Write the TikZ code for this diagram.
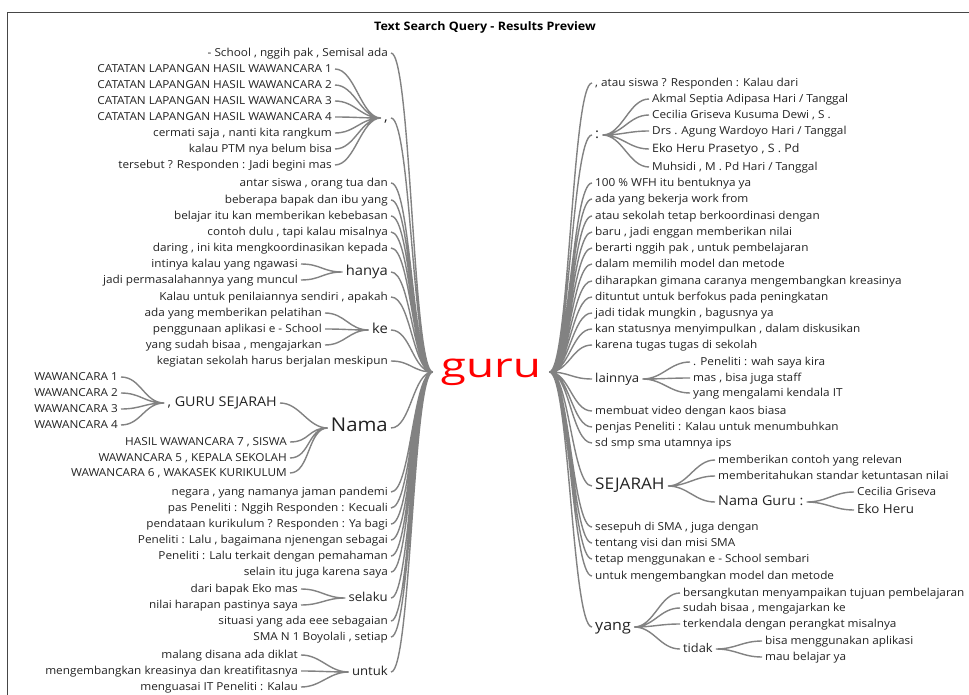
\documentclass[tikz,border=0pt]{standalone}
\usepackage{fontspec}
\usepackage{graphicx}
\setmainfont{Open Sans}[FakeStretch=1.07]
\definecolor{wirec}{RGB}{130,130,130}
\definecolor{txt}{RGB}{35,35,35}
\definecolor{framec}{RGB}{70,70,70}
\newcommand\wordfont{\fontsize{11}{12}\selectfont}
\tikzset{
  wire/.style={draw=wirec, line width=1.4pt},
  lbranch/.style={to path={.. controls +(-#1,0) and +(#1,0) .. (\tikztotarget)}},
  lbranch/.default=20,
  rbranch/.style={to path={.. controls +(#1,0) and +(-#1,0) .. (\tikztotarget)}},
  rbranch/.default=20,
  lword/.style={anchor=east, inner xsep=3pt, inner ysep=0pt, text height=1.5ex,
    text depth=.25ex, font=\wordfont, text=txt},
  rword/.style={lword, anchor=west},
}
\begin{document}
\begin{tikzpicture}[x=1pt, y=-1pt]
      \fill[white] (0,0) rectangle (969,695);
      \useasboundingbox (0,0) rectangle (969,695);
      \draw[framec, line width=1pt] (7,695) -- (7,13) -- (969,13);
      \node[font=\bfseries\fontsize{11.7}{12}\selectfont, text=black] (title) at (485,27) {Text Search Query - Results Preview};
      \node[text=red, font=\fontsize{34}{34}\selectfont, inner xsep=8pt, inner ysep=0pt] (guru) at (491,372) {\scalebox{1.26}[1]{guru}};

      \node[lword] (l1) at (391, 53){- School , nggih pak , Semisal ada};
      \node[lword, font=\fontsize{14}{14}\selectfont] (lc) at (391, 118){,};
        \node[lword] (c1) at (335, 69){CATATAN LAPANGAN HASIL WAWANCARA 1};
        \node[lword] (c2) at (335, 85){CATATAN LAPANGAN HASIL WAWANCARA 2};
        \node[lword] (c3) at (335, 101){CATATAN LAPANGAN HASIL WAWANCARA 3};
        \node[lword] (c4) at (335, 117){CATATAN LAPANGAN HASIL WAWANCARA 4};
        \node[lword] (c5) at (335, 133){cermati saja , nanti kita rangkum};
        \node[lword] (c6) at (335, 149){kalau PTM nya belum bisa};
        \node[lword] (c7) at (335, 165){tersebut ? Responden : Jadi begini mas};
      \node[lword] (l2) at (391, 183){antar siswa , orang tua dan};
      \node[lword] (l3) at (391, 200){beberapa bapak dan ibu yang};
      \node[lword] (l4) at (391, 216){belajar itu kan memberikan kebebasan};
      \node[lword] (l5) at (391, 232){contoh dulu , tapi kalau misalnya};
      \node[lword] (l6) at (391, 248){daring , ini kita mengkoordinasikan kepada};
      \node[lword, font=\fontsize{13.8}{14}\selectfont] (lh) at (391, 272){hanya};
        \node[lword] (h1) at (301, 264){intinya kalau yang ngawasi};
        \node[lword] (h2) at (301, 280){jadi permasalahannya yang muncul};
      \node[lword] (l7) at (391, 297){Kalau untuk penilaiannya sendiri , apakah};
      \node[lword, font=\fontsize{13.8}{14}\selectfont] (lk) at (391, 330){ke};
        \node[lword] (k1) at (325, 313){ada yang memberikan pelatihan};
        \node[lword] (k2) at (325, 329){penggunaan aplikasi e - School};
        \node[lword] (k3) at (325, 345){yang sudah bisaa , mengajarkan};
      \node[lword] (l8) at (391, 361){kegiatan sekolah harus berjalan meskipun};
      \node[lword, font=\fontsize{19}{19}\selectfont] (ln) at (391, 428){Nama};
        \node[lword, font=\fontsize{13.4}{14}\selectfont] (ng) at (280, 403){, GURU SEJARAH};
          \node[lword] (w1) at (121, 377){WAWANCARA 1};
          \node[lword] (w2) at (121, 393){WAWANCARA 2};
          \node[lword] (w3) at (121, 409){WAWANCARA 3};
          \node[lword] (w4) at (121, 425){WAWANCARA 4};
        \node[lword] (n1) at (290, 442){HASIL WAWANCARA 7 , SISWA};
        \node[lword] (n2) at (290, 458){WAWANCARA 5 , KEPALA SEKOLAH};
        \node[lword] (n3) at (290, 473){WAWANCARA 6 , WAKASEK KURIKULUM};
      \node[lword] (l9) at (391, 492){negara , yang namanya jaman pandemi};
      \node[lword] (l10) at (391, 508){pas Peneliti : Nggih Responden : Kecuali};
      \node[lword] (l11) at (391, 524){pendataan kurikulum ? Responden : Ya bagi};
      \node[lword] (l12) at (391, 540){Peneliti : Lalu , bagaimana njenengan sebagai};
      \node[lword] (l13) at (391, 556){Peneliti : Lalu terkait dengan pemahaman};
      \node[lword] (l14) at (391, 572){selain itu juga karena saya};
      \node[lword, font=\fontsize{12.3}{13}\selectfont] (ls) at (391, 598){selaku};
        \node[lword] (s1) at (301, 589){dari bapak Eko mas};
        \node[lword] (s2) at (301, 605){nilai harapan pastinya saya};
      \node[lword] (l15) at (391, 621){situasi yang ada eee sebagaian};
      \node[lword] (l16) at (391, 637){SMA N 1 Boyolali , setiap};
      \node[lword, font=\fontsize{12.3}{13}\selectfont] (lu) at (391, 672){untuk};
        \node[lword] (u1) at (301, 655){malang disana ada diklat};
        \node[lword] (u2) at (301, 671){mengembangkan kreasinya dan kreatifitasnya};
        \node[lword] (u3) at (301, 687){menguasai IT Peneliti : Kalau};

      \node[rword] (r1) at (592, 83){, atau siswa ? Responden : Kalau dari};
      \node[rword, font=\fontsize{14}{14}\selectfont] (rc) at (592, 135){:};
        \node[rword] (a1) at (649, 99){Akmal Septia Adipasa Hari / Tanggal};
        \node[rword] (a2) at (649, 115){Cecilia Griseva Kusuma Dewi , S .};
        \node[rword] (a3) at (649, 131){Drs . Agung Wardoyo Hari / Tanggal};
        \node[rword, font=\fontsize{11.6}{12}\selectfont] (a4) at (649, 149){Eko Heru Prasetyo , S . Pd};
        \node[rword] (a5) at (649, 167){Muhsidi , M . Pd Hari / Tanggal};
      \node[rword] (r2) at (592, 183){100 \% WFH itu bentuknya ya};
      \node[rword] (r3) at (592, 199){ada yang bekerja work from};
      \node[rword] (r4) at (592, 216){atau sekolah tetap berkoordinasi dengan};
      \node[rword] (r5) at (592, 232){baru , jadi enggan memberikan nilai};
      \node[rword] (r6) at (592, 248){berarti nggih pak , untuk pembelajaran};
      \node[rword] (r7) at (592, 264){dalam memilih model dan metode};
      \node[rword] (r8) at (592, 281){diharapkan gimana caranya mengembangkan kreasinya};
      \node[rword] (r9) at (592, 297){dituntut untuk berfokus pada peningkatan};
      \node[rword] (r10) at (592, 313){jadi tidak mungkin , bagusnya ya};
      \node[rword] (r11) at (592, 329){kan statusnya menyimpulkan , dalam diskusikan};
      \node[rword] (r12) at (592, 345){karena tugas tugas di sekolah};
      \node[rword, font=\fontsize{12.3}{13}\selectfont] (rl) at (592, 379){lainnya};
        \node[rword] (e1) at (690, 362){. Peneliti : wah saya kira};
        \node[rword] (e2) at (690, 378){mas , bisa juga staff};
        \node[rword] (e3) at (690, 393){yang mengalami kendala IT};
      \node[rword] (r13) at (592, 411){membuat video dengan kaos biasa};
      \node[rword] (r14) at (592, 427){penjas Peneliti : Kalau untuk menumbuhkan};
      \node[rword] (r15) at (592, 443){sd smp sma utamnya ips};
      \node[rword, font=\fontsize{16}{16}\selectfont] (rs) at (592, 486){SEJARAH};
        \node[rword] (j1) at (715, 460){memberikan contoh yang relevan};
        \node[rword] (j2) at (715, 476){memberitahukan standar ketuntasan nilai};
        \node[rword, font=\fontsize{13.4}{14}\selectfont] (jn) at (715, 502){Nama Guru :};
          \node[rword] (g1) at (854, 492){Cecilia Griseva};
          \node[rword, font=\fontsize{12.5}{13}\selectfont] (g2) at (854, 510){Eko Heru};
      \node[rword] (r16) at (592, 527){sesepuh di SMA , juga dengan};
      \node[rword] (r17) at (592, 543){tentang visi dan misi SMA};
      \node[rword] (r18) at (592, 559){tetap menggunakan e - School sembari};
      \node[rword] (r19) at (592, 576){untuk mengembangkan model dan metode};
      \node[rword, font=\fontsize{15}{15}\selectfont] (ry) at (592, 627){yang};
        \node[rword] (y1) at (680, 593){bersangkutan menyampaikan tujuan pembelajaran};
        \node[rword] (y2) at (680, 608){sudah bisaa , mengajarkan ke};
        \node[rword] (y3) at (680, 624){terkendala dengan perangkat misalnya};
        \node[rword, font=\fontsize{12}{12}\selectfont] (yt) at (680, 649){tidak};
          \node[rword] (t1) at (762, 641){bisa menggunakan aplikasi};
          \node[rword] (t2) at (762, 657){mau belajar ya};

      \draw[wire] (guru.west) to[lbranch] (l1.east) (guru.west) to[lbranch] (lc.east)
        (guru.west) to[lbranch] (l2.east) (guru.west) to[lbranch] (l3.east)
        (guru.west) to[lbranch] (l4.east) (guru.west) to[lbranch] (l5.east)
        (guru.west) to[lbranch] (l6.east) (guru.west) to[lbranch] (lh.east)
        (guru.west) to[lbranch] (l7.east) (guru.west) to[lbranch] (lk.east)
        (guru.west) to[lbranch] (l8.east) (guru.west) to[lbranch] (ln.east)
        (guru.west) to[lbranch] (l9.east) (guru.west) to[lbranch] (l10.east)
        (guru.west) to[lbranch] (l11.east) (guru.west) to[lbranch] (l12.east)
        (guru.west) to[lbranch] (l13.east) (guru.west) to[lbranch] (l14.east)
        (guru.west) to[lbranch] (ls.east) (guru.west) to[lbranch] (l15.east)
        (guru.west) to[lbranch] (l16.east) (guru.west) to[lbranch] (lu.east);
      \draw[wire] (lc.west) to[lbranch] (c1.east) (lc.west) to[lbranch] (c2.east)
        (lc.west) to[lbranch] (c3.east) (lc.west) to[lbranch] (c4.east)
        (lc.west) to[lbranch] (c5.east) (lc.west) to[lbranch] (c6.east)
        (lc.west) to[lbranch] (c7.east);
      \draw[wire] (lh.west) to[lbranch] (h1.east) (lh.west) to[lbranch] (h2.east);
      \draw[wire] (lk.west) to[lbranch] (k1.east) (lk.west) to[lbranch] (k2.east)
        (lk.west) to[lbranch] (k3.east);
      \draw[wire] (ln.west) to[lbranch] (ng.east) (ln.west) to[lbranch] (n1.east)
        (ln.west) to[lbranch] (n2.east) (ln.west) to[lbranch] (n3.east);
      \draw[wire] (ng.west) to[lbranch] (w1.east) (ng.west) to[lbranch] (w2.east)
        (ng.west) to[lbranch] (w3.east) (ng.west) to[lbranch] (w4.east);
      \draw[wire] (ls.west) to[lbranch] (s1.east) (ls.west) to[lbranch] (s2.east);
      \draw[wire] (lu.west) to[lbranch] (u1.east) (lu.west) to[lbranch] (u2.east)
        (lu.west) to[lbranch] (u3.east);

      \draw[wire] (guru.east) to[rbranch] (r1.west) (guru.east) to[rbranch] (rc.west)
        (guru.east) to[rbranch] (r2.west) (guru.east) to[rbranch] (r3.west)
        (guru.east) to[rbranch] (r4.west) (guru.east) to[rbranch] (r5.west)
        (guru.east) to[rbranch] (r6.west) (guru.east) to[rbranch] (r7.west)
        (guru.east) to[rbranch] (r8.west) (guru.east) to[rbranch] (r9.west)
        (guru.east) to[rbranch] (r10.west) (guru.east) to[rbranch] (r11.west)
        (guru.east) to[rbranch] (r12.west) (guru.east) to[rbranch] (rl.west)
        (guru.east) to[rbranch] (r13.west) (guru.east) to[rbranch] (r14.west)
        (guru.east) to[rbranch] (r15.west) (guru.east) to[rbranch] (rs.west)
        (guru.east) to[rbranch] (r16.west) (guru.east) to[rbranch] (r17.west)
        (guru.east) to[rbranch] (r18.west) (guru.east) to[rbranch] (r19.west)
        (guru.east) to[rbranch] (ry.west);
      \draw[wire] (rc.east) to[rbranch] (a1.west) (rc.east) to[rbranch] (a2.west)
        (rc.east) to[rbranch] (a3.west) (rc.east) to[rbranch] (a4.west)
        (rc.east) to[rbranch] (a5.west);
      \draw[wire] (rl.east) to[rbranch] (e1.west) (rl.east) to[rbranch] (e2.west)
        (rl.east) to[rbranch] (e3.west);
      \draw[wire] (rs.east) to[rbranch] (j1.west) (rs.east) to[rbranch] (j2.west)
        (rs.east) to[rbranch] (jn.west);
      \draw[wire] (jn.east) to[rbranch] (g1.west) (jn.east) to[rbranch] (g2.west);
      \draw[wire] (ry.east) to[rbranch] (y1.west) (ry.east) to[rbranch] (y2.west)
        (ry.east) to[rbranch] (y3.west) (ry.east) to[rbranch] (yt.west);
      \draw[wire] (yt.east) to[rbranch] (t1.west) (yt.east) to[rbranch] (t2.west);
    \end{tikzpicture}
\end{document}
